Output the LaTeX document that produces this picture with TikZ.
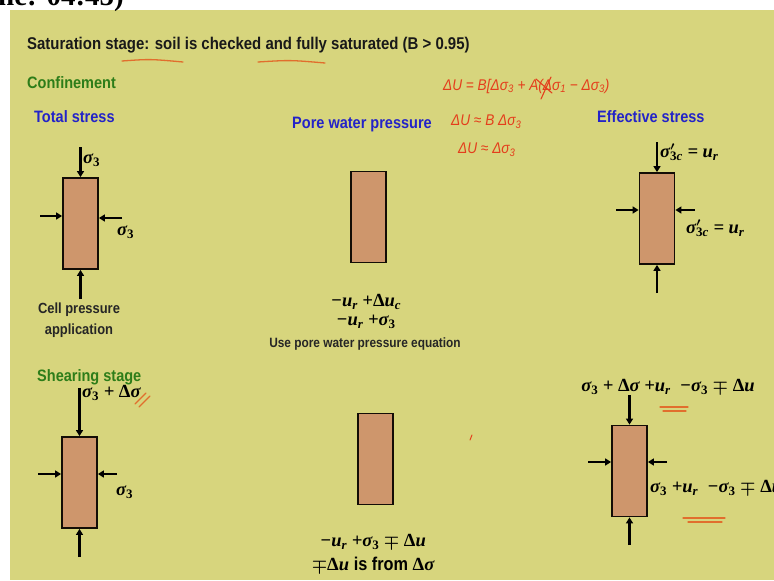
\documentclass[tikz,border=0pt]{standalone}
\usepackage{fontspec}
\setmainfont{Liberation Sans}[FakeStretch=0.88]
\newfontfamily\serifb{Liberation Serif}
\newfontfamily\mfont{Liberation Serif}
\newcommand{\dn}[1]{\textsubscript{#1}}
\newcommand{\up}[1]{\textup{#1}}
\newcommand{\sgp}{σ\rlap{\kern0.3pt\raisebox{0.15ex}{$^{\prime}$}}}
\usetikzlibrary{arrows.meta}
\definecolor{bg}{RGB}{215,213,125}
\definecolor{boxc}{RGB}{206,150,108}
\definecolor{tblue}{RGB}{35,35,200}
\definecolor{tgreen}{RGB}{45,125,25}
\definecolor{hand}{RGB}{228,62,28}
\definecolor{uline}{RGB}{225,110,45}
\begin{document}
\begin{tikzpicture}[x=1pt,y=-1pt,
  sample/.style={draw=black!90!brown,line width=1.8pt,fill=boxc,minimum width=35pt,minimum height=91pt,inner sep=0pt},
  force/.style={-{Triangle[length=6pt,width=7pt]},line width=2.2pt},
  mlab/.style={font=\fontsize{18.5}{21}\selectfont\mfont\bfseries\itshape\boldmath,inner sep=0pt},
  head/.style={font=\fontsize{16.5}{19}\selectfont\bfseries,inner sep=0pt,anchor=base west},
  note/.style={font=\fontsize{14.7}{17}\selectfont\bfseries,inner sep=0pt,text=black!85},
  hw/.style={text=hand,font=\fontsize{15.5}{18}\selectfont\itshape,inner sep=0pt,anchor=west},
  redline/.style={draw=uline,line width=1.3pt,line cap=round}
]
\useasboundingbox (0,0) rectangle (774,581);
\fill[white] (0,0) rectangle (774,581);
\fill[bg] (10,10) rectangle (774,580);
\node[font=\fontsize{29}{32}\selectfont\serifb\bfseries,anchor=base west,inner sep=0pt] (clock) at (-2,5) {ne: 04:45)};

% headings
\node[head,text=black!90,font=\fontsize{17}{20}\selectfont\bfseries] (title) at (27,49) {Saturation stage: soil is checked and fully saturated (B > 0.95)};
\draw[redline] (122,61) .. controls (150,59) .. (183,62);
\draw[redline] (258,62) .. controls (290,60) .. (325,63);
\node[head,text=tgreen] (conf) at (27,88) {Confinement};
\node[head,text=tblue] (tot) at (34,122) {Total stress};
\node[head,text=tblue] (pwp) at (292,128) {Pore water pressure};
\node[head,text=tblue] (eff) at (597,122) {Effective stress};
\node[head,text=tgreen] (shear) at (37,381) {Shearing stage};

% handwritten notes
\node[hw] (h1) at (443,86) {ΔU = B[Δσ\dn{3} + A(Δσ\dn{1} − Δσ\dn{3})};
\draw[draw=hand,line width=1.1pt,line cap=round] (536,79) -- (552,93);
\draw[draw=hand,line width=1.1pt,line cap=round] (551,77) -- (541,99);
\node[hw] (h2) at (451,122) {ΔU ≈ B Δσ\dn{3}};
\node[hw] (h3) at (458,150) {ΔU ≈ Δσ\dn{3}};

% ---- confinement: total stress
\node[sample] (s1) at (80.5,223.5) {};
\coordinate (t1) at (80.5,147);
\coordinate (l1) at (40,216);
\coordinate (r1) at (122,218);
\coordinate (b1) at (80.5,299);
\draw[force] (t1) -- (s1.north);
\draw[force] (l1) -- (l1 -| s1.west);
\draw[force] (r1) -- (r1 -| s1.east);
\draw[force] (b1) -- (s1.south);
\node[mlab,anchor=west] (a1) at (83,160) {σ\dn{\upshape 3}};
\node[mlab,anchor=west] (a2) at (117,232) {σ\dn{\upshape 3}};
\node[note] (c1) at (79,310) {Cell pressure};
\node[note] (c2) at (79,331) {application};

% ---- confinement: pore water pressure
\node[sample] (s2) at (368.5,217) {};
\node[mlab] (p1) at (366,302) {−u\dn{r} +\up{Δ}u\dn{c}};
\node[mlab] (p2) at (366,322) {−u\dn{r} +σ\dn{\upshape 3}};
\node[note,font=\fontsize{13.5}{16}\selectfont\bfseries] (p3) at (365,344) {Use pore water pressure equation};

% ---- confinement: effective stress
\node[sample] (s3) at (657,218.5) {};
\coordinate (t3) at (657,142);
\coordinate (l3) at (616,210);
\coordinate (r3) at (695,210);
\coordinate (b3) at (657,293);
\draw[force] (t3) -- (s3.north);
\draw[force] (l3) -- (l3 -| s3.west);
\draw[force] (r3) -- (r3 -| s3.east);
\draw[force] (b3) -- (s3.south);
\node[mlab,anchor=west] (e1) at (660,152) {\sgp\dn{\upshape 3\itshape c} = u\dn{r}};
\node[mlab,anchor=west] (e2) at (686,228) {\sgp\dn{\upshape 3\itshape c} = u\dn{r}};

% ---- shearing: total stress
\node[sample] (s4) at (79.5,482.5) {};
\coordinate (t4) at (79.5,388);
\coordinate (l4) at (38,474);
\coordinate (r4) at (117,474);
\coordinate (b4) at (79.5,557);
\draw[force] (t4) -- (s4.north);
\draw[force] (l4) -- (l4 -| s4.west);
\draw[force] (r4) -- (r4 -| s4.east);
\draw[force] (b4) -- (s4.south);
\node[mlab,anchor=west] (d1) at (82,393) {σ\dn{\upshape 3} + \up{Δ}σ};
\draw[redline] (135,404) -- (146,393);
\draw[redline] (139,407) -- (150,396);
\node[mlab,anchor=west] (d2) at (116,492) {σ\dn{\upshape 3}};

% ---- shearing: pore water pressure
\node[sample] (s5) at (375.5,459) {};
\node[mlab] (q1) at (373,542) {−u\dn{r} +σ\dn{\upshape 3} $\mp$ \up{Δ}u};
\node[mlab] (q2) at (373,565) {$\mp$\up{Δ}u {\normalfont\bfseries is from} \up{Δ}σ};
\draw[draw=hand,line width=1pt,line cap=round] (470,440) -- (472,435);

% ---- shearing: effective stress
\node[sample] (s6) at (629.5,471) {};
\coordinate (t6) at (629.5,395);
\coordinate (l6) at (588,462);
\coordinate (r6) at (667,462);
\coordinate (b6) at (629.5,545);
\draw[force] (t6) -- (s6.north);
\draw[force] (l6) -- (l6 -| s6.west);
\draw[force] (r6) -- (r6 -| s6.east);
\draw[force] (b6) -- (s6.south);
\node[mlab] (f1) at (668,387) {σ\dn{\upshape 3} + \up{Δ}σ +u\dn{r} \ −σ\dn{\upshape 3} $\mp$ \up{Δ}u};
\draw[redline] (660,407) -- (688,407);
\draw[redline] (663,411) -- (686,411);
\node[mlab,anchor=west] (f2) at (650,488) {σ\dn{\upshape 3} +u\dn{r} \ −σ\dn{\upshape 3} $\mp$ \up{Δ}u};
\draw[redline] (683,518) -- (725,518);
\draw[redline] (688,522) -- (722,522);
\end{tikzpicture}
\end{document}
